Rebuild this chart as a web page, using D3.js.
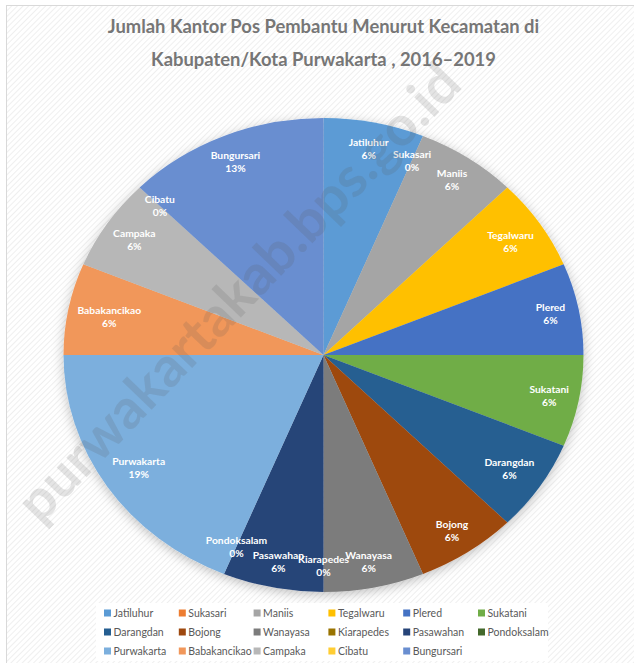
<!DOCTYPE html>
<html>
<head>
<meta charset="utf-8">
<script src="https://cdn.jsdelivr.net/npm/d3@7"></script>
<style>
  body { margin: 0; background: #fff; }
  svg { display: block; }
</style>
</head>
<body>
<div id="chart"></div>
<script>
const W = 634, H = 663;

// data
const kecamatan = ["Jatiluhur", "Sukasari", "Maniis", "Tegalwaru", "Plered", "Sukatani",
  "Darangdan", "Bojong", "Wanayasa", "Kiarapedes", "Pasawahan", "Pondoksalam",
  "Purwakarta", "Babakancikao", "Campaka", "Cibatu", "Bungursari"];
const jumlah = [1, 0, 1, 1, 1, 1, 1, 1, 1, 0, 1, 0, 3, 1, 1, 0, 2];
const warna = ["#5B9BD5", "#ED7D31", "#A5A5A5", "#FFC000", "#4472C4", "#70AD47",
  "#255E91", "#9E480E", "#7C7C7C", "#997300", "#264478", "#43682B",
  "#7CAFDD", "#F1975A", "#B7B7B7", "#FFCD33", "#698ED0"];
const judul = ["Jumlah Kantor Pos Pembantu Menurut Kecamatan di",
  "Kabupaten/Kota Purwakarta , 2016\u20132019"];
const watermark = "purwakartakab.bps.go.id";

const CX = 323.5, CY = 355, RX = 260, RY = 237;

const svg = d3.select("#chart").append("svg")
  .attr("width", W).attr("height", H);

const defs = svg.append("defs");
const pat = defs.append("pattern")
  .attr("id", "hatch")
  .attr("width", 4).attr("height", 4)
  .attr("patternUnits", "userSpaceOnUse")
  .attr("patternTransform", "rotate(45)");
pat.append("rect").attr("width", 4).attr("height", 4).attr("fill", "#fff");
pat.append("line").attr("x1", 0).attr("y1", 0).attr("x2", 0).attr("y2", 4)
  .attr("stroke", "#ececec").attr("stroke-width", 1.6);

const shadow = defs.append("filter").attr("id", "shadow")
  .attr("x", "-20%").attr("y", "-20%").attr("width", "140%").attr("height", "140%");
shadow.append("feDropShadow")
  .attr("dx", 0).attr("dy", 3).attr("stdDeviation", 6)
  .attr("flood-color", "#000").attr("flood-opacity", 0.25);

// chart area
svg.append("rect")
  .attr("x", 6.5).attr("y", 5.5).attr("width", 640).attr("height", 680)
  .attr("fill", "url(#hatch)").attr("stroke", "#d9d9d9");

// title
svg.append("g").selectAll("text").data(judul).join("text")
  .attr("x", CX).attr("y", (d, i) => 33 + i * 33)
  .attr("text-anchor", "middle")
  .attr("font-family", "Lato, 'Open Sans', sans-serif")
  .attr("font-weight", "bold")
  .attr("font-size", 18.4)
  .attr("fill", "#767676")
  .text(d => d);

// pie
const pie = d3.pie().sort(null).value(d => d)(jumlah);
const arc = d3.arc().innerRadius(0).outerRadius(RX);

const gPie = svg.append("g")
  .attr("transform", `translate(${CX},${CY}) scale(1,${RY / RX})`)
  .attr("filter", "url(#shadow)");
gPie.selectAll("path").data(pie).join("path")
  .attr("d", arc)
  .attr("fill", (d, i) => warna[i]);

// labels - pulled inward until the box fits inside the ellipse
const total = d3.sum(jumlah);
const lbl = svg.append("g")
  .attr("font-family", "Lato, 'Open Sans', sans-serif")
  .attr("font-weight", "bold")
  .attr("font-size", 10.3)
  .attr("fill", "#fff")
  .attr("text-anchor", "middle");

const inside = (x, y, k) => ((x - CX) / (RX * k)) ** 2 + ((y - CY) / (RY * k)) ** 2 <= 1;

pie.forEach((d, i) => {
  const a = (d.startAngle + d.endAngle) / 2;
  const t = lbl.append("text");
  const s1 = t.append("tspan").attr("dy", -2.5).text(kecamatan[i]);
  const s2 = t.append("tspan").attr("dy", 13)
    .text(Math.round(jumlah[i] / total * 100) + "%");
  const w = Math.max(s1.node().getComputedTextLength(), s2.node().getComputedTextLength());
  let f = 0.89, x, y;
  while (f > 0.5) {
    x = CX + Math.sin(a) * RX * f;
    y = CY - Math.cos(a) * RY * f;
    const ok = [[-1, -1], [1, -1], [-1, 1], [1, 1]]
      .every(([sx, sy]) => inside(x + sx * w / 2, y + sy * 13, 0.975));
    if (ok) break;
    f -= 0.005;
  }
  t.attr("x", x).attr("y", y);
  s1.attr("x", x);
  s2.attr("x", x);
});

// watermark
svg.append("text")
  .attr("transform", "translate(242,296) rotate(-46)")
  .attr("text-anchor", "middle")
  .attr("dominant-baseline", "middle")
  .attr("font-family", "Lato, 'Open Sans', sans-serif")
  .attr("font-weight", "bold")
  .attr("font-size", 55)
  .attr("textLength", 610)
  .attr("lengthAdjust", "spacingAndGlyphs")
  .attr("fill", "#555")
  .attr("fill-opacity", 0.16)
  .text(watermark);

// legend
const legX = d3.scaleLinear().domain([0, 1]).range([104, 178.8]);
const legY = d3.scaleLinear().domain([0, 1]).range([613, 632]);
svg.append("rect")
  .attr("x", 96).attr("y", 603).attr("width", 452).attr("height", 58)
  .attr("fill", "#fff");
const leg = svg.append("g").selectAll("g").data(kecamatan).join("g")
  .attr("transform", (d, i) => `translate(${legX(i % 6)},${legY(Math.floor(i / 6))})`);
leg.append("rect")
  .attr("x", 0).attr("y", -3.5).attr("width", 7).attr("height", 7)
  .attr("fill", (d, i) => warna[i]);
leg.append("text")
  .attr("x", 9.5).attr("y", 0)
  .attr("dy", "0.35em")
  .attr("font-family", "Lato, 'Open Sans', sans-serif")
  .attr("font-size", 10.5)
  .attr("fill", "#595959")
  .text(d => d);
</script>
</body>
</html>
